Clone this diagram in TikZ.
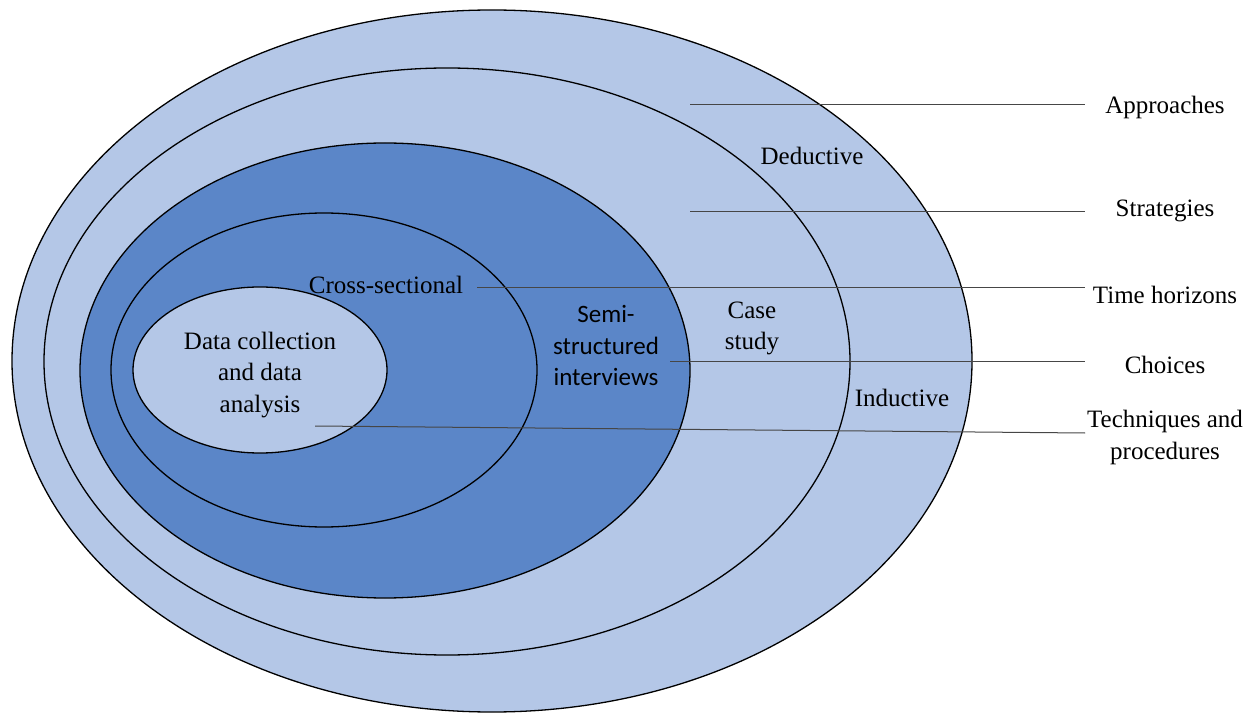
\documentclass[tikz,border=0pt]{standalone}
\usepackage{fontspec}
\setmainfont{Liberation Serif}
\newfontfamily\calibrifont{Carlito}
\usetikzlibrary{shapes.geometric}
\definecolor{paleblue}{RGB}{180,199,231}
\definecolor{midblue}{RGB}{91,134,200}
\definecolor{leadgray}{RGB}{70,70,70}

\begin{document}
\begin{tikzpicture}[x=0.5pt,y=-0.5pt,
    ring/.style={ellipse,draw,line width=0.65pt,inner sep=0pt,outer sep=0pt},
    lbl/.style={font=\fontsize{12.5}{15.75}\selectfont,align=center,inner sep=0pt,yshift=-1.3pt},
    leader/.style={leadgray,line width=0.5pt}]
\useasboundingbox (0,0) rectangle (1256,715);

% onion layers
\node[ring,fill=paleblue,minimum width=480pt,minimum height=351pt] (approach) at (492,361) {};
\node[ring,fill=paleblue,minimum width=403pt,minimum height=293.5pt] (strategy) at (447,361.5) {};
\node[ring,fill=midblue,minimum width=305pt,minimum height=227.5pt] (choice) at (385,370.5) {};
\node[ring,fill=midblue,minimum width=213pt,minimum height=157pt] (horizon) at (324,370) {};
\node[ring,fill=paleblue,minimum width=127pt,minimum height=83pt] (technique) at (260,370) {};

% texts inside
\node[lbl] (deductive) at (812,153) {Deductive};
\node[lbl] (inductive) at (902,395) {Inductive};
\node[lbl] (casestudy) at (752,326) {Case\\study};
\node[lbl] (crosssec) at (386,282) {Cross-sectional};
\node[lbl,font=\fontsize{12.5}{15.75}\selectfont\calibrifont] (semi) at (606,343) {Semi-\\structured\\interviews};
\node[lbl] (datacoll) at (260,372) {Data collection\\and data\\analysis};

% layer names
\node[lbl] (approaches) at (1165,105) {Approaches};
\node[lbl] (strategies) at (1165,208) {Strategies};
\node[lbl] (horizons) at (1165,292) {Time horizons};
\node[lbl] (choices) at (1165,362) {Choices};
\node[lbl] (techniques) at (1165,435) {Techniques and\\procedures};

\coordinate (a1) at (690,105);   \coordinate (a2) at (1085,105);
\coordinate (s1) at (690,212);   \coordinate (s2) at (1085,212);
\coordinate (t1) at (477,288);   \coordinate (t2) at (1085,288);
\coordinate (c1) at (670,362);   \coordinate (c2) at (1085,362);
\coordinate (p1) at (315,426);   \coordinate (p2) at (1085,433);

\draw[leader] (a1)--(a2);
\draw[leader] (s1)--(s2);
\draw[leader] (t1)--(t2);
\draw[leader] (c1)--(c2);
\draw[leader] (p1)--(p2);

\end{tikzpicture}
\end{document}
